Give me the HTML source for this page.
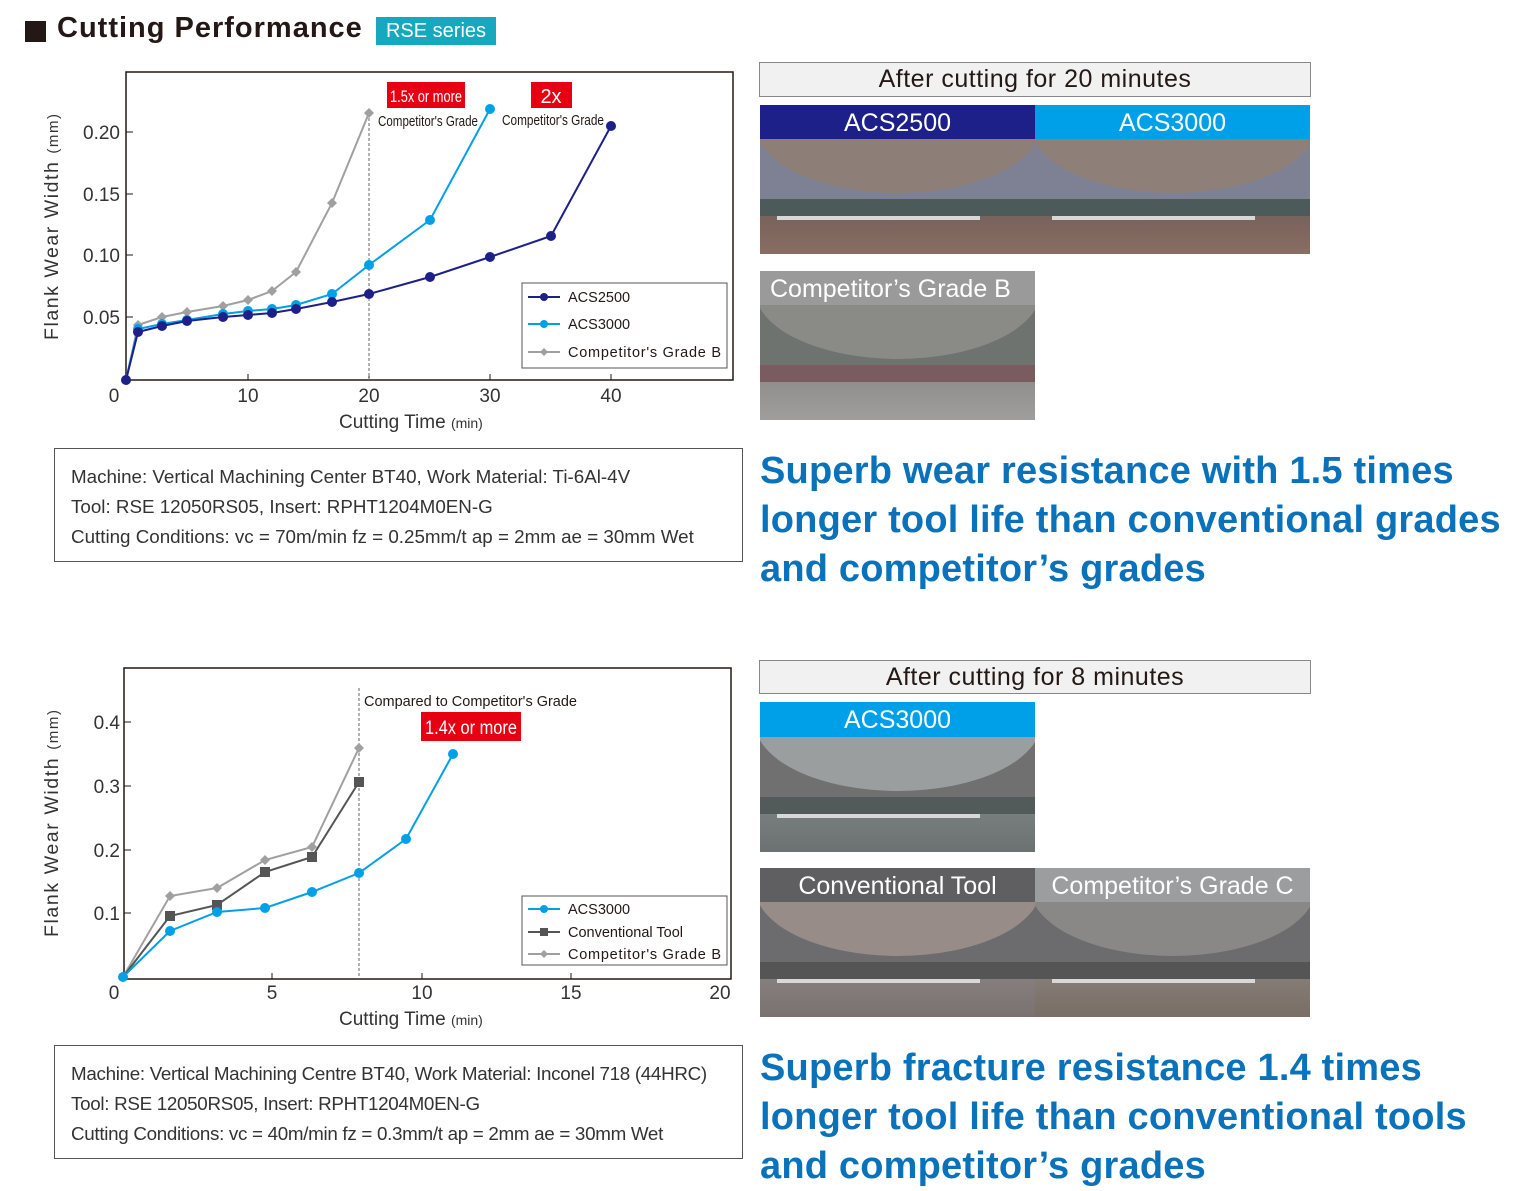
<!DOCTYPE html>
<html><head><meta charset="utf-8"><style>
*{margin:0;padding:0;box-sizing:border-box}
body{width:1531px;height:1191px;background:#fff;position:relative;overflow:hidden;font-family:"Liberation Sans",sans-serif;color:#231815}
.a{position:absolute}
.hd{position:absolute;border:1px solid #888;background:#f0f1f0;font-size:25px;text-align:center;line-height:32px;letter-spacing:0.5px}
.lab{position:absolute;color:#fff;font-size:25px;text-align:center;line-height:36px}
.ph{position:absolute;overflow:hidden}
.up{position:absolute;left:0;right:0;top:0;height:52%}
.arc{position:absolute;left:-2%;width:104%;top:-140%;height:230%;border-radius:50%}
.lo{position:absolute;left:0;right:0;top:52%;bottom:0}
.band{position:absolute;left:0;right:0;top:0;height:32%}
.edge{position:absolute;left:6%;right:20%;top:31%;height:4px;background:#d8d8d8}
.box{position:absolute;border:1px solid #555;font-size:18.8px;line-height:30px;padding:13px 0 0 16px;color:#333;white-space:nowrap}
.big{position:absolute;color:#0a72bb;font-weight:bold;font-size:38px;line-height:49px;left:760px;letter-spacing:0.2px}
</style></head><body>
<div class="a" style="left:25px;top:21px;width:21px;height:21px;background:#231815"></div>
<div class="a" style="left:57px;top:12px;font-size:29px;font-weight:bold;letter-spacing:1px">Cutting Performance</div>
<div class="a" style="left:376px;top:17px;width:120px;height:28px;background:#16a9bd;color:#fff;font-size:20px;text-align:center;line-height:28px">RSE series</div>

<svg class="a" style="left:0;top:0" width="750" height="1191" font-family="Liberation Sans, sans-serif">
<rect x="126" y="72" width="607" height="308" fill="none" stroke="#231815" stroke-width="1.5"/>
<g stroke="#231815" stroke-width="1"><line x1="126" y1="132" x2="133" y2="132"/><line x1="126" y1="194" x2="133" y2="194"/><line x1="126" y1="255" x2="133" y2="255"/><line x1="126" y1="317" x2="133" y2="317"/>
<line x1="248" y1="380" x2="248" y2="374"/><line x1="369" y1="380" x2="369" y2="374"/><line x1="490" y1="380" x2="490" y2="374"/><line x1="611" y1="380" x2="611" y2="374"/></g>
<g font-size="19" fill="#333" text-anchor="end"><text x="120" y="139">0.20</text><text x="120" y="201">0.15</text><text x="120" y="262">0.10</text><text x="120" y="324">0.05</text></g>
<g font-size="19" fill="#333" text-anchor="middle"><text x="114" y="402">0</text><text x="248" y="402">10</text><text x="369" y="402">20</text><text x="490" y="402">30</text><text x="611" y="402">40</text></g>
<text x="339" y="428" font-size="19" fill="#333">Cutting Time <tspan font-size="14">(min)</tspan></text>
<text transform="translate(58,340) rotate(-90)" font-size="19.5" fill="#333" textLength="226" lengthAdjust="spacing">Flank Wear Width <tspan font-size="15">(mm)</tspan></text>
<line x1="369" y1="113" x2="369" y2="380" stroke="#666" stroke-dasharray="3,2"/>
<polyline fill="none" stroke="#a0a0a0" stroke-width="2" points="126,380 138,325 162,317 187,312 223,306 248,300 272,291 296,272 332,203 369,113"/>
<g fill="#a0a0a0"><path d="M138 320l5 5-5 5-5-5z"/><path d="M162 312l5 5-5 5-5-5z"/><path d="M187 307l5 5-5 5-5-5z"/><path d="M223 301l5 5-5 5-5-5z"/><path d="M248 295l5 5-5 5-5-5z"/><path d="M272 286l5 5-5 5-5-5z"/><path d="M296 267l5 5-5 5-5-5z"/><path d="M332 198l5 5-5 5-5-5z"/><path d="M369 108l5 5-5 5-5-5z"/></g>
<polyline fill="none" stroke="#00a0e9" stroke-width="2" points="126,380 138,329 162,324 187,320 223,314 248,311 272,309 296,305 332,294 369,265 430,220 490,109"/>
<g fill="#00a0e9"><circle cx="138" cy="329" r="5"/><circle cx="162" cy="324" r="5"/><circle cx="187" cy="320" r="5"/><circle cx="223" cy="314" r="5"/><circle cx="248" cy="311" r="5"/><circle cx="272" cy="309" r="5"/><circle cx="296" cy="305" r="5"/><circle cx="332" cy="294" r="5"/><circle cx="369" cy="265" r="5"/><circle cx="430" cy="220" r="5"/><circle cx="490" cy="109" r="5"/></g>
<polyline fill="none" stroke="#1d2088" stroke-width="2" points="126,380 138,332 162,326 187,321 223,317 248,315 272,313 296,309 332,302 369,294 430,277 490,257 551,236 611,126"/>
<g fill="#1d2088"><circle cx="126" cy="380" r="5"/><circle cx="138" cy="332" r="5"/><circle cx="162" cy="326" r="5"/><circle cx="187" cy="321" r="5"/><circle cx="223" cy="317" r="5"/><circle cx="248" cy="315" r="5"/><circle cx="272" cy="313" r="5"/><circle cx="296" cy="309" r="5"/><circle cx="332" cy="302" r="5"/><circle cx="369" cy="294" r="5"/><circle cx="430" cy="277" r="5"/><circle cx="490" cy="257" r="5"/><circle cx="551" cy="236" r="5"/><circle cx="611" cy="126" r="5"/></g>
<rect x="387" y="82" width="78" height="26" fill="#e60012"/><text x="426" y="102" font-size="17" fill="#fff" text-anchor="middle" textLength="72" lengthAdjust="spacingAndGlyphs">1.5x or more</text>
<text x="428" y="126" font-size="15" fill="#231815" text-anchor="middle" textLength="100" lengthAdjust="spacingAndGlyphs">Competitor's Grade</text>
<rect x="531" y="82" width="41" height="26" fill="#e60012"/><text x="551" y="103" font-size="20" fill="#fff" text-anchor="middle">2x</text>
<text x="553" y="125" font-size="15" fill="#231815" text-anchor="middle" textLength="102" lengthAdjust="spacingAndGlyphs">Competitor's Grade</text>
<rect x="522" y="283" width="205" height="85" fill="#fff" stroke="#555"/>
<g font-size="14.5" fill="#231815"><text x="568" y="302">ACS2500</text><text x="568" y="329">ACS3000</text><text x="568" y="357" textLength="153" lengthAdjust="spacing">Competitor's Grade B</text></g>
<line x1="528" y1="297" x2="560" y2="297" stroke="#1d2088" stroke-width="2"/><circle cx="544" cy="297" r="4" fill="#1d2088"/>
<line x1="528" y1="324" x2="560" y2="324" stroke="#00a0e9" stroke-width="2"/><circle cx="544" cy="324" r="4" fill="#00a0e9"/>
<line x1="528" y1="352" x2="560" y2="352" stroke="#a0a0a0" stroke-width="2"/><path d="M544 348l4 4-4 4-4-4z" fill="#a0a0a0"/>

<rect x="124" y="668" width="607" height="311" fill="none" stroke="#231815" stroke-width="1.5"/>
<g stroke="#231815"><line x1="124" y1="722" x2="131" y2="722"/><line x1="124" y1="786" x2="131" y2="786"/><line x1="124" y1="850" x2="131" y2="850"/><line x1="124" y1="913" x2="131" y2="913"/>
<line x1="272" y1="979" x2="272" y2="973"/><line x1="422" y1="979" x2="422" y2="973"/><line x1="571" y1="979" x2="571" y2="973"/></g>
<g font-size="19" fill="#333" text-anchor="end"><text x="120" y="729">0.4</text><text x="120" y="793">0.3</text><text x="120" y="857">0.2</text><text x="120" y="920">0.1</text></g>
<g font-size="19" fill="#333" text-anchor="middle"><text x="114" y="999">0</text><text x="272" y="999">5</text><text x="422" y="999">10</text><text x="571" y="999">15</text><text x="720" y="999">20</text></g>
<text x="339" y="1025" font-size="19" fill="#333">Cutting Time <tspan font-size="14">(min)</tspan></text>
<text transform="translate(58,937) rotate(-90)" font-size="19.5" fill="#333" textLength="227" lengthAdjust="spacing">Flank Wear Width <tspan font-size="15">(mm)</tspan></text>
<line x1="359" y1="688" x2="359" y2="979" stroke="#666" stroke-dasharray="3,2"/>
<text x="364" y="706" font-size="15" fill="#231815" textLength="213" lengthAdjust="spacingAndGlyphs">Compared to Competitor's Grade</text>
<rect x="421" y="712" width="100" height="29" fill="#e60012"/><text x="471" y="734" font-size="19" fill="#fff" text-anchor="middle" textLength="92" lengthAdjust="spacingAndGlyphs">1.4x or more</text>
<polyline fill="none" stroke="#a0a0a0" stroke-width="2" points="123,977 170,896 217,888 265,860 312,847 359,748"/>
<g fill="#a0a0a0"><path d="M170 891l5 5-5 5-5-5z"/><path d="M217 883l5 5-5 5-5-5z"/><path d="M265 855l5 5-5 5-5-5z"/><path d="M312 842l5 5-5 5-5-5z"/><path d="M359 743l5 5-5 5-5-5z"/></g>
<polyline fill="none" stroke="#555" stroke-width="2" points="123,977 170,916 217,905 265,872 312,857 359,782"/>
<g fill="#555"><rect x="165" y="911" width="10" height="10"/><rect x="212" y="900" width="10" height="10"/><rect x="260" y="867" width="10" height="10"/><rect x="307" y="852" width="10" height="10"/><rect x="354" y="777" width="10" height="10"/></g>
<polyline fill="none" stroke="#00a0e9" stroke-width="2" points="123,977 170,931 217,912 265,908 312,892 359,873 406,839 453,754"/>
<g fill="#00a0e9"><circle cx="123" cy="977" r="5"/><circle cx="170" cy="931" r="5"/><circle cx="217" cy="912" r="5"/><circle cx="265" cy="908" r="5"/><circle cx="312" cy="892" r="5"/><circle cx="359" cy="873" r="5"/><circle cx="406" cy="839" r="5"/><circle cx="453" cy="754" r="5"/></g>
<rect x="522" y="896" width="205" height="69" fill="#fff" stroke="#555"/>
<g font-size="14.5" fill="#231815"><text x="568" y="914">ACS3000</text><text x="568" y="937">Conventional Tool</text><text x="568" y="959" textLength="153" lengthAdjust="spacing">Competitor's Grade B</text></g>
<line x1="528" y1="909" x2="560" y2="909" stroke="#00a0e9" stroke-width="2"/><circle cx="544" cy="909" r="4" fill="#00a0e9"/>
<line x1="528" y1="932" x2="560" y2="932" stroke="#555" stroke-width="2"/><rect x="540" y="928" width="8" height="8" fill="#555"/>
<line x1="528" y1="954" x2="560" y2="954" stroke="#a0a0a0" stroke-width="2"/><path d="M544 950l4 4-4 4-4-4z" fill="#a0a0a0"/>
</svg>

<div class="box" style="left:54px;top:448px;width:689px;height:114px">Machine: Vertical Machining Center BT40, Work Material: Ti-6Al-4V<br>Tool: RSE 12050RS05, Insert: RPHT1204M0EN-G<br>Cutting Conditions: vc = 70m/min fz = 0.25mm/t ap = 2mm ae = 30mm Wet</div>
<div class="box" style="left:54px;top:1045px;width:689px;height:114px;letter-spacing:-0.3px">Machine: Vertical Machining Centre BT40, Work Material: Inconel 718 (44HRC)<br>Tool: RSE 12050RS05, Insert: RPHT1204M0EN-G<br>Cutting Conditions: vc = 40m/min fz = 0.3mm/t ap = 2mm ae = 30mm Wet</div>

<div class="hd" style="left:759px;top:62px;width:552px;height:35px">After cutting for 20 minutes</div>
<div class="lab" style="left:760px;top:105px;width:275px;background:#1d2088">ACS2500</div>
<div class="lab" style="left:1035px;top:105px;width:275px;background:#00a0e9">ACS3000</div>
<div class="ph" style="left:760px;top:139px;width:275px;height:115px"><div class="up" style="background:#7e8194"><div class="arc" style="background:#8d7f78"></div></div><div class="lo" style="background:linear-gradient(#6e5e5a,#8a6d62)"><div class="band" style="background:#4d5a5a"></div><div class="edge"></div></div></div>
<div class="ph" style="left:1035px;top:139px;width:275px;height:115px"><div class="up" style="background:#7e8194"><div class="arc" style="background:#8e8078"></div></div><div class="lo" style="background:linear-gradient(#6e5e5a,#8a6d62)"><div class="band" style="background:#4d5a5a"></div><div class="edge"></div></div></div>
<div class="lab" style="left:760px;top:271px;width:275px;background:#9a9a9a;text-align:left;padding-left:10px">Competitor’s Grade B</div>
<div class="ph" style="left:760px;top:305px;width:275px;height:115px"><div class="up" style="background:#6e7370"><div class="arc" style="background:#8a8a86"></div></div><div class="lo" style="background:linear-gradient(#8a8886,#a09e9c)"><div class="band" style="background:#7a5c60"></div></div></div>

<div class="big" style="top:447px">Superb wear resistance with 1.5 times<br>longer tool life than conventional grades<br>and competitor’s grades</div>

<div class="hd" style="left:759px;top:660px;width:552px;height:34px">After cutting for 8 minutes</div>
<div class="lab" style="left:760px;top:702px;width:275px;background:#00a0e9">ACS3000</div>
<div class="ph" style="left:760px;top:737px;width:275px;height:115px"><div class="up" style="background:#707070"><div class="arc" style="background:#9a9e9e"></div></div><div class="lo" style="background:linear-gradient(#7d8282,#6c7272)"><div class="band" style="background:#525a5a"></div><div class="edge"></div></div></div>
<div class="lab" style="left:760px;top:868px;width:275px;background:#5f5f62">Conventional Tool</div>
<div class="lab" style="left:1035px;top:868px;width:275px;background:#9c9d9e">Competitor’s Grade C</div>
<div class="ph" style="left:760px;top:902px;width:275px;height:115px"><div class="up" style="background:#6c6c6e"><div class="arc" style="background:#978c88"></div></div><div class="lo" style="background:linear-gradient(#8a8482,#7a7270)"><div class="band" style="background:#555"></div><div class="edge"></div></div></div>
<div class="ph" style="left:1035px;top:902px;width:275px;height:115px"><div class="up" style="background:#6c6c6e"><div class="arc" style="background:#8a8886"></div></div><div class="lo" style="background:linear-gradient(#88827c,#7a6e66)"><div class="band" style="background:#555"></div><div class="edge"></div></div></div>

<div class="big" style="top:1044px">Superb fracture resistance 1.4 times<br>longer tool life than conventional tools<br>and competitor’s grades</div>
</body></html>
